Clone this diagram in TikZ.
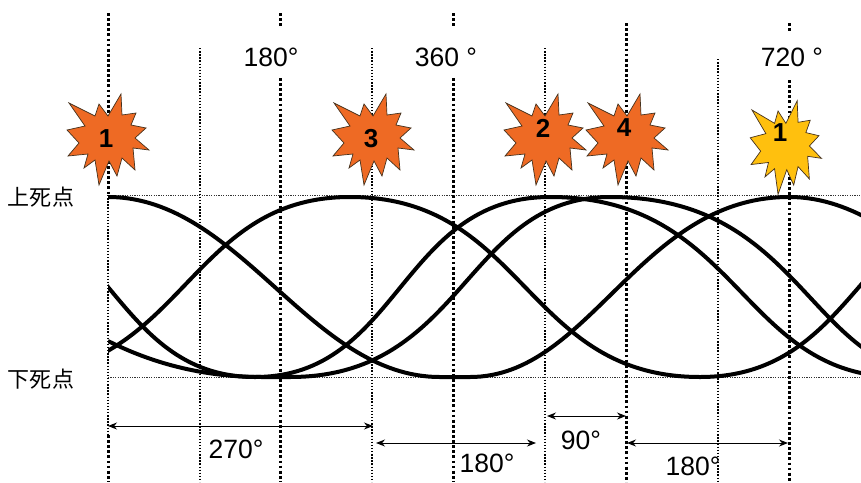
\documentclass[tikz,border=0pt]{standalone}
\usepackage{fontspec}
\setmainfont{Liberation Sans}
\newfontfamily\cjkfont{Noto Sans CJK JP}
\usetikzlibrary{positioning, arrows.meta}

\tikzset{
    thickdot/.style={line width=3pt,dash pattern=on 2.8pt off 2.3pt},
    thindot/.style={line width=1.1pt,dash pattern=on 1.4pt off 1.7pt},
    deadline/.style={line width=1pt,dash pattern=on 1.2pt off 1.2pt,black!80},
    stroke/.style={line width=4pt},
    span/.style={{Stealth[length=9pt,width=7pt]}-{Stealth[length=9pt,width=7pt]},line width=1pt},
    degree/.style={font=\fontsize{26.5}{26.5}\selectfont},
    dead/.style={font=\cjkfont\fontsize{22}{22}\selectfont},
    number/.style={font=\bfseries\fontsize{26}{26}\selectfont},
    burst/.pic={
        \filldraw[pic actions,line width=.7pt] (14,-44) -- (15,-23) -- (29,-25) -- (24,-13) -- (39,-10) -- (28,0)
            -- (42,12) -- (26,10) -- (28,32) -- (15,20) -- (10,38) -- (2,23) -- (-8,47) -- (-12,22)
            -- (-23,30) -- (-19,16) -- (-39,18) -- (-28,5) -- (-40,-8) -- (-22,-12) -- (-38,-35)
            -- (-12,-22) -- (-8,-34) -- (1,-22) -- cycle;
    }
}
\definecolor{firecolor}{RGB}{238,106,36}
\definecolor{lastcolor}{RGB}{255,192,14}
\definecolor{edgecolor}{RGB}{70,50,30}

\begin{document}
\begin{tikzpicture}[x=1pt,y=-1pt]
    \useasboundingbox (0,0) rectangle (861,482);

    % crank angle lines
    \foreach \x in {200,372,545} {
        \draw[thindot] (\x,48) -- (\x,482);
    }
    \draw[thindot] (718,59) -- (718,482);
    \draw[thickdot] (108,13) -- (108,195);
    \draw[thindot] (108,195) -- (108,435);
    \draw[thickdot] (108,435) -- (108,482);
    \foreach \x in {280,453} {
        \draw[thickdot] (\x,13) -- (\x,28);
        \draw[thickdot] (\x,78) -- (\x,482);
    }
    \draw[thickdot] (626,23) -- (626,482);
    \draw[thickdot] (789,23) -- (789,32);
    \draw[thickdot] (789,80) -- (789,482);

    % dead centres
    \draw[deadline] (108,195) -- (861,195);
    \draw[deadline] (108,377) -- (861,377);

    % piston curves
    \begin{scope}
        \clip (108,0) rectangle (861,482);
        \draw[stroke] (108,197) .. controls (240,197) and (310,377) .. (440,377) -- (470,377)
            .. controls (590,377) and (640,197) .. (789,197)
            .. controls (920,197) and (1000,377) .. (1140,377);
        \draw[stroke] (-45,197) .. controls (109,197) and (109,377) .. (255,377)
            .. controls (400,377) and (400,197) .. (550,197)
            .. controls (740,197) and (740,377) .. (900,377);
        \draw[stroke] (4,377) .. controls (185,377) and (185,197) .. (350,197)
            .. controls (525,197) and (525,377) .. (700,377)
            .. controls (860,377) and (860,197) .. (1012,197);
        \draw[stroke] (108,341) .. controls (150,362) and (200,377) .. (262,377) -- (290,377)
            .. controls (465,377) and (465,197) .. (610,197)
            .. controls (807,197) and (807,377) .. (950,377);
    \end{scope}

    % firing marks
    \pic[fill=firecolor,draw=edgecolor] at (107,138) {burst};
    \pic[fill=firecolor,draw=edgecolor] at (372,138) {burst};
    \pic[fill=firecolor,draw=edgecolor] at (544,138) {burst};
    \pic[fill=firecolor,draw=edgecolor] at (626,138) {burst};
    \pic[fill=lastcolor,draw=edgecolor,xscale=.87,yscale=1.03] at (785,146) {burst};

    \node[number] (n1) at (106,139) {1};
    \node[number] (n3) at (371,139) {3};
    \node[number] (n2) at (543,128) {2};
    \node[number] (n4) at (624,128) {4};
    \node[number] (n5) at (780,133) {1};

    \node[degree] (a180) at (271,57) {180°};
    \node[degree] (a360) at (446,57) {360 °};
    \node[degree] (a720) at (792,57) {720 °};

    \node[dead] (top) at (41,197) {上死点};
    \node[dead] (bottom) at (41,379) {下死点};

    % firing intervals
    \coordinate (s1) at (108,426);
    \coordinate (e1) at (373,426);
    \coordinate (s2) at (376,443);
    \coordinate (e2) at (536,443);
    \coordinate (s3) at (547,416);
    \coordinate (e3) at (626,416);
    \coordinate (s4) at (627,443);
    \coordinate (e4) at (788,443);
    \draw[span] (s1) -- (e1);
    \draw[span] (s2) -- (e2);
    \draw[span] (s3) -- (e3);
    \draw[span] (s4) -- (e4);

    \node[degree] (d270) at (236,449) {270°};
    \node[degree] (d180) at (487,463) {180°};
    \node[degree] (d90) at (581,440) {90°};
    \node[degree] (e180) at (693,466) {180°};
\end{tikzpicture}
\end{document}
